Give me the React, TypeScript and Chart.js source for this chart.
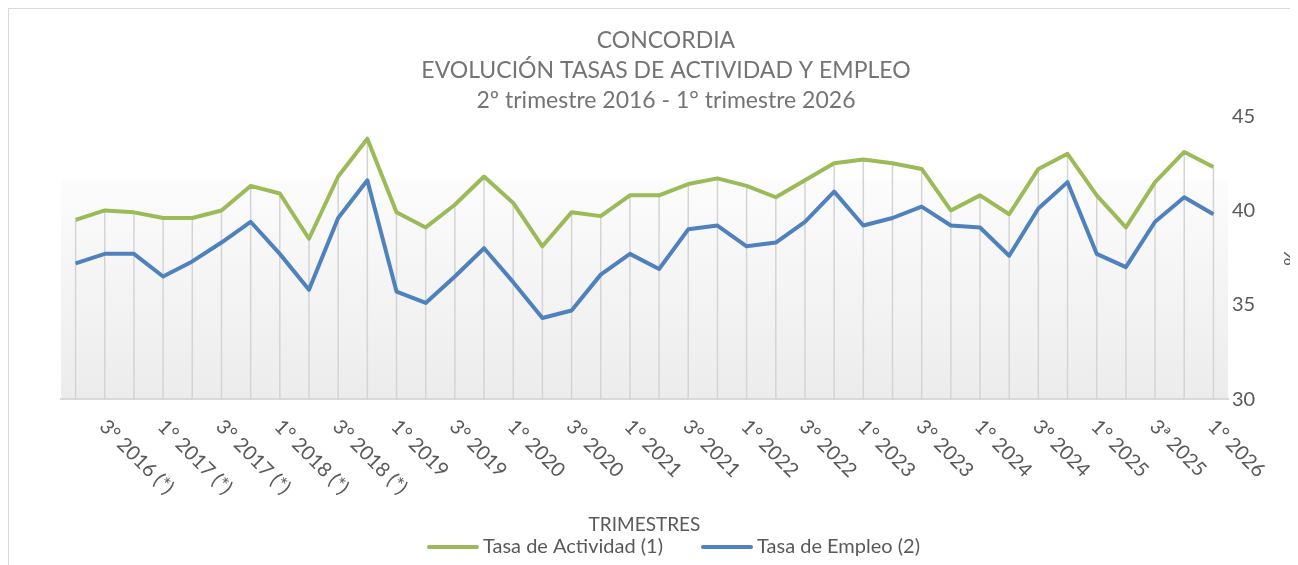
import React, { useEffect, useRef } from "react";
import { Chart, registerables } from "chart.js";

Chart.register(...registerables);

const categories = [
  "2° 2016 (*)", "3° 2016 (*)", "4° 2016 (*)",
  "1° 2017 (*)", "2° 2017 (*)", "3° 2017 (*)", "4° 2017 (*)",
  "1° 2018 (*)", "2° 2018 (*)", "3° 2018 (*)", "4° 2018 (*)",
  "1° 2019", "2° 2019", "3° 2019", "4° 2019",
  "1° 2020", "2° 2020", "3° 2020", "4° 2020",
  "1° 2021", "2° 2021", "3° 2021", "4° 2021",
  "1° 2022", "2° 2022", "3° 2022", "4° 2022",
  "1° 2023", "2° 2023", "3° 2023", "4° 2023",
  "1° 2024", "2° 2024", "3º 2024", "4° 2024",
  "1° 2025", "2° 2025", "3ª 2025", "4° 2025",
  "1° 2026",
];

const tasaActividad = [
  39.5, 40.0, 39.9, 39.6, 39.6, 40.0, 41.3, 40.9, 38.5, 41.8,
  43.8, 39.9, 39.1, 40.3, 41.8, 40.4, 38.1, 39.9, 39.7, 40.8,
  40.8, 41.4, 41.7, 41.3, 40.7, 41.6, 42.5, 42.7, 42.5, 42.2,
  40.0, 40.8, 39.8, 42.2, 43.0, 40.8, 39.1, 41.5, 43.1, 42.3,
];

const tasaEmpleo = [
  37.2, 37.7, 37.7, 36.5, 37.3, 38.3, 39.4, 37.7, 35.8, 39.6,
  41.6, 35.7, 35.1, 36.5, 38.0, 36.2, 34.3, 34.7, 36.6, 37.7,
  36.9, 39.0, 39.2, 38.1, 38.3, 39.4, 41.0, 39.2, 39.6, 40.2,
  39.2, 39.1, 37.6, 40.1, 41.5, 37.7, 37.0, 39.4, 40.7, 39.8,
];

const titleLines = [
  "CONCORDIA",
  "EVOLUCIÓN TASAS DE ACTIVIDAD Y EMPLEO",
  "2º trimestre 2016 - 1° trimestre 2026",
];
const seriesNames = ["Tasa de Actividad (1)", "Tasa de Empleo (2)"];
const xAxisTitle = "TRIMESTRES";
const yAxisTitle = "%";
const yMin = 30;
const yMax = 45;
const yStep = 5;

const GREEN = "#9BBB59";
const BLUE = "#4F81BD";
const TEXT = "#595959";
const TITLE = "#747474";
const FONT = "Lato";

const bgPlugin = {
  id: "bgGradient",
  beforeDraw(chart: any) {
    const { ctx, chartArea } = chart;
    if (!chartArea) return;
    const h = chartArea.bottom - chartArea.top;
    const top = chartArea.top + h * 0.223;
    const g = ctx.createLinearGradient(0, top, 0, chartArea.bottom);
    g.addColorStop(0, "#fcfcfc");
    g.addColorStop(1, "#ececec");
    ctx.save();
    ctx.fillStyle = g;
    ctx.fillRect(chartArea.left, top, chartArea.right - chartArea.left, chartArea.bottom - top);
    ctx.restore();
  },
};

const dropLinesPlugin = {
  id: "dropLines",
  beforeDatasetsDraw(chart: any) {
    const { ctx, chartArea } = chart;
    const m0 = chart.getDatasetMeta(0);
    const m1 = chart.getDatasetMeta(1);
    ctx.save();
    ctx.strokeStyle = "#d4d4d4";
    ctx.lineWidth = 1.5;
    m0.data.forEach((pt: any, i: number) => {
      const y = Math.min(pt.y, m1.data[i] ? m1.data[i].y : pt.y);
      ctx.beginPath();
      ctx.moveTo(pt.x, y);
      ctx.lineTo(pt.x, chartArea.bottom);
      ctx.stroke();
    });
    ctx.restore();
  },
};

const xLabelsPlugin = {
  id: "xLabels",
  afterDraw(chart: any) {
    const { ctx, chartArea } = chart;
    const xs = chart.scales.x;
    ctx.save();
    ctx.font = `20px ${FONT}`;
    ctx.fillStyle = TEXT;
    ctx.textAlign = "left";
    ctx.textBaseline = "top";
    categories.forEach((lab, i) => {
      if (i % 2 !== 1) return;
      const x = xs.getPixelForTick(i);
      ctx.save();
      ctx.translate(x + 5, chartArea.bottom + 17);
      ctx.rotate(Math.PI / 4);
      ctx.fillText(lab, 0, 0);
      ctx.restore();
    });
    ctx.restore();
  },
};

const extrasPlugin = {
  id: "extras",
  afterDraw(chart: any) {
    const { ctx, chartArea } = chart;
    ctx.save();
    ctx.font = `20px ${FONT}`;
    ctx.fillStyle = TEXT;
    ctx.textAlign = "center";
    ctx.textBaseline = "middle";
    ctx.translate(chartArea.right + 62, (chartArea.top + chartArea.bottom) / 2);
    ctx.rotate(Math.PI / 2);
    ctx.fillText(yAxisTitle, 0, 0);
    ctx.restore();

    ctx.save();
    ctx.font = `20px ${FONT}`;
    const colors = [GREEN, BLUE];
    const lineW = 52;
    const textGap = 4;
    const itemGap = 38;
    const widths = seriesNames.map((s) => ctx.measureText(s).width);
    const total = widths.reduce((a, w) => a + lineW + textGap + w, 0) + itemGap * (seriesNames.length - 1);
    let x = chart.width / 2 + 20 - total / 2;
    const y = chart.height - 18;
    seriesNames.forEach((s, i) => {
      ctx.strokeStyle = colors[i];
      ctx.lineWidth = 4;
      ctx.lineCap = "round";
      ctx.beginPath();
      ctx.moveTo(x + 2, y);
      ctx.lineTo(x + lineW - 2, y);
      ctx.stroke();
      ctx.fillStyle = TEXT;
      ctx.textAlign = "left";
      ctx.textBaseline = "middle";
      ctx.fillText(s, x + lineW + textGap, y);
      x += lineW + textGap + widths[i] + itemGap;
    });
    ctx.restore();
  },
};

export default function App() {
  const ref = useRef<HTMLCanvasElement | null>(null);

  useEffect(() => {
    if (!ref.current) return;
    const chart = new Chart(ref.current, {
      type: "line",
      data: {
        labels: categories,
        datasets: [
          {
            label: seriesNames[0],
            data: tasaActividad,
            borderColor: GREEN,
            backgroundColor: GREEN,
            borderWidth: 4,
            pointRadius: 0,
            tension: 0,
            borderJoinStyle: "round",
            fill: false,
          },
          {
            label: seriesNames[1],
            data: tasaEmpleo,
            borderColor: BLUE,
            backgroundColor: BLUE,
            borderWidth: 4,
            pointRadius: 0,
            tension: 0,
            borderJoinStyle: "round",
            fill: false,
          },
        ],
      },
      options: {
        responsive: false,
        animation: false,
        layout: { padding: { left: 52, right: 27, top: 0, bottom: 29 } },
        plugins: {
          legend: { display: false },
          tooltip: { enabled: false },
          title: {
            display: true,
            text: titleLines,
            color: TITLE,
            font: { family: FONT, size: 23, weight: "normal", lineHeight: 1.32 },
            padding: { top: 16, bottom: 0 },
          },
        },
        scales: {
          x: {
            type: "category",
            offset: true,
            grid: { display: false, drawTicks: false },
            border: { display: true, color: "#d9d9d9", width: 2 },
            ticks: { display: false },
            title: {
              display: true,
              text: xAxisTitle,
              color: TEXT,
              font: { family: FONT, size: 19, weight: "normal", lineHeight: 1.2 },
              padding: { top: 114, bottom: 0 },
            },
          },
          y: {
            position: "right",
            min: yMin,
            max: yMax,
            grid: { display: false, drawTicks: false },
            border: { display: false },
            ticks: {
              stepSize: yStep,
              padding: 4,
              color: TEXT,
              font: { family: FONT, size: 20 },
            },
            afterFit(scale: any) {
              scale.width = 43;
            },
          },
        },
      },
      plugins: [bgPlugin, dropLinesPlugin, xLabelsPlugin, extrasPlugin],
    });
    return () => chart.destroy();
  }, []);

  return (
    <div
      style={{
        width: 1290,
        height: 557,
        overflow: "hidden",
        borderLeft: "1px solid #d9d9d9",
        borderTop: "1px solid #d9d9d9",
        boxSizing: "border-box",
        background: "#ffffff",
      }}
    >
      <canvas ref={ref} width={1289} height={556} style={{ display: "block" }} />
    </div>
  );
}
